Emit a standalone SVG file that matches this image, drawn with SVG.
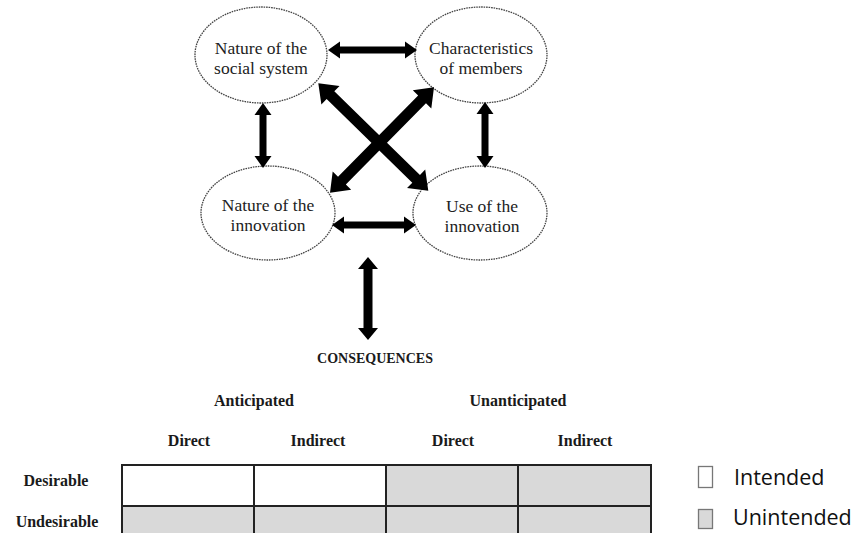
<svg xmlns="http://www.w3.org/2000/svg" width="854" height="533" viewBox="0 0 854 533">
<style>
.ell{fill:#fff;stroke:#444;stroke-width:1.3;stroke-dasharray:1.6 0.9}
.nt{font-family:"Liberation Serif","Times New Roman",serif;font-size:17.5px;fill:#222;text-anchor:middle}
.hd{font-family:"Liberation Serif","Times New Roman",serif;font-size:16px;font-weight:bold;fill:#1a1a1a;text-anchor:middle}
.arr{fill:#000}
.cw{fill:#fff;stroke:#222;stroke-width:2}
.cg{fill:#d9d9d9;stroke:#222;stroke-width:2}
.lg{font-family:"Open Sans","Liberation Sans",sans-serif;font-size:21.5px;fill:#111}
</style>
<rect width="854" height="533" fill="#fff"/>
<g id="n-social">
<ellipse class="ell" cx="261" cy="55" rx="66" ry="48"/>
<text class="nt" x="261" y="54">Nature of the</text>
<text class="nt" x="261" y="74">social system</text>
</g>
<g id="n-members">
<ellipse class="ell" cx="481" cy="55" rx="66" ry="48"/>
<text class="nt" x="481" y="54">Characteristics</text>
<text class="nt" x="481" y="74">of members</text>
</g>
<g id="n-innovation">
<ellipse class="ell" cx="268" cy="213" rx="67" ry="47"/>
<text class="nt" x="268" y="211">Nature of the</text>
<text class="nt" x="268" y="231">innovation</text>
</g>
<g id="n-use">
<ellipse class="ell" cx="480" cy="213" rx="67" ry="47"/>
<text class="nt" x="482" y="212">Use of the</text>
<text class="nt" x="482" y="232">innovation</text>
</g>
<g id="connectors">
<polygon class="arr" points="328,50 340,41.5 340,46.5 405,46.5 405,41.5 417,50 405,58.5 405,53.5 340,53.5 340,58.5"/>
<polygon class="arr" points="332,225 344,216.5 344,221.5 404,221.5 404,216.5 416,225 404,233.5 404,228.5 344,228.5 344,233.5"/>
<polygon class="arr" points="263,103 271.5,115 266.5,115 266.5,156 271.5,156 263,168 254.5,156 259.5,156 259.5,115 254.5,115"/>
<polygon class="arr" points="485,102 493.5,114 488.5,114 488.5,156 493.5,156 485,168 476.5,156 481.5,156 481.5,114 476.5,114"/>
<polygon class="arr" points="318.3,83.3 321.39,104.48 326.63,99.12 412.29,182.76 407.05,188.12 428.3,190.7 425.21,169.52 419.97,174.88 334.31,91.24 339.55,85.88"/>
<polygon class="arr" points="434,87.3 412.81,90.27 418.15,95.54 338.03,176.74 332.69,171.47 330,192.7 351.19,189.73 345.85,184.46 425.97,103.26 431.31,108.53"/>
<polygon class="arr" points="368,257 378,269 372.5,269 372.5,328 378,328 368,340 358,328 363.5,328 363.5,269 358,269"/>
</g>
<g id="consequences">
<text class="hd" x="375" y="363" style="font-size:14px">CONSEQUENCES</text>
<text class="hd" x="254" y="406">Anticipated</text>
<text class="hd" x="518" y="406">Unanticipated</text>
<text class="hd" x="189" y="446">Direct</text>
<text class="hd" x="318" y="446">Indirect</text>
<text class="hd" x="453" y="446">Direct</text>
<text class="hd" x="585" y="446">Indirect</text>
<text class="hd" x="56" y="486">Desirable</text>
<text class="hd" x="57" y="527">Undesirable</text>
</g>
<g id="table">
<rect class="cw" x="122" y="465" width="132" height="41"/>
<rect class="cw" x="254" y="465" width="132" height="41"/>
<rect class="cg" x="386" y="465" width="132" height="41"/>
<rect class="cg" x="518" y="465" width="133" height="41"/>
<rect class="cg" x="122" y="506" width="132" height="41"/>
<rect class="cg" x="254" y="506" width="132" height="41"/>
<rect class="cg" x="386" y="506" width="132" height="41"/>
<rect class="cg" x="518" y="506" width="133" height="41"/>
</g>
<g id="legend">
<rect x="698.5" y="466.5" width="14" height="21" fill="#fff" stroke="#777" stroke-width="1.3"/>
<text class="lg" x="734" y="485">Intended</text>
<rect x="698.5" y="509.5" width="14" height="19" fill="#d9d9d9" stroke="#777" stroke-width="1.3"/>
<text class="lg" x="733" y="525">Unintended</text>
</g>
</svg>
